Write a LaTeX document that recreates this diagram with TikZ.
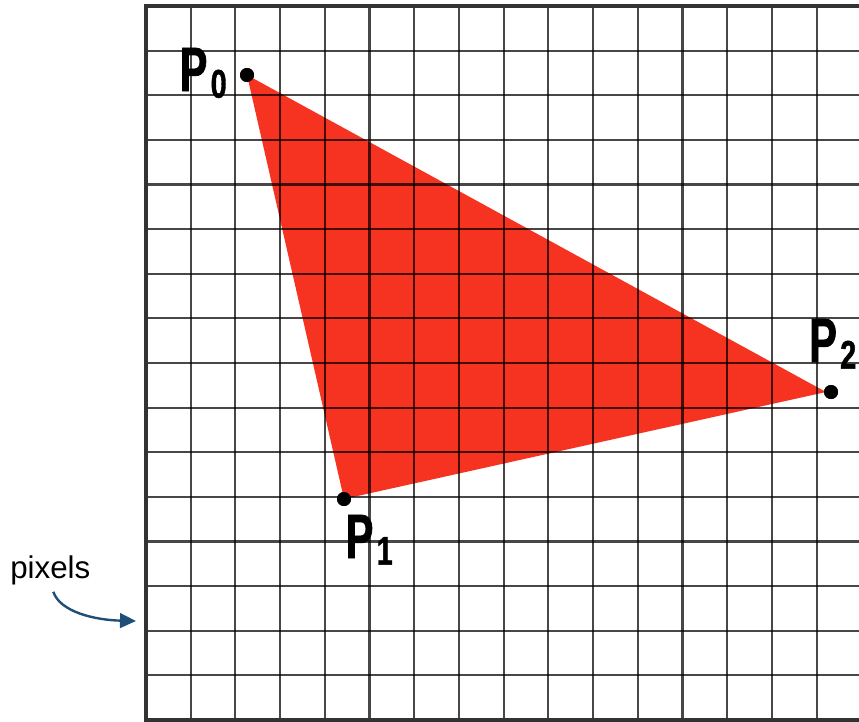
\documentclass[tikz,border=0pt]{standalone}
\usepackage{fontspec}
\setmainfont{Liberation Sans}
\newfontfamily\labfont[FakeBold=1.2,FakeStretch=0.66]{Liberation Sans Bold}
\newfontfamily\subfont[FakeBold=1.0,FakeStretch=0.72]{Liberation Sans Bold}
\usetikzlibrary{arrows.meta,calc}
\definecolor{trired}{RGB}{246,50,33}
\definecolor{arrblue}{RGB}{31,78,121}
\newcommand{\ptlabel}[1]{{\labfont\fontsize{47}{47}\selectfont P}\kern2.5pt\raisebox{-5pt}{\subfont\fontsize{30}{30}\selectfont #1}}
\begin{document}
\begin{tikzpicture}[x=0.75pt,y=-0.75pt,
  gridline/.style={black,opacity=0.72,line width=1.6pt},
  border/.style={black!80,line width=2.4pt},
  vdot/.style={circle,fill=black,inner sep=0pt,minimum size=10.5pt},
  ptlab/.style={inner sep=0pt,anchor=base west},
  pixlab/.style={inner sep=0pt,anchor=base west,font=\fontsize{23.5}{23.5}\selectfont},
  blueArrow/.style={arrblue,line width=1.8pt,-{Triangle[length=12pt,width=11pt]}}]
\useasboundingbox (0,0) rectangle (859,721);
\node[vdot] (p0) at (247,75) {};
\node[vdot] (p1) at (344,499) {};
\node[vdot] (p2) at (831,392) {};
\fill[trired] (p0.center) -- (p1.center) -- (826,392) -- cycle;
\foreach \i in {1,...,15} \draw[gridline] ({146+44.71*\i},6) -- ({146+44.71*\i},720);
\foreach \j in {1,...,15} \draw[gridline] (146,{6+44.625*\j}) -- (859,{6+44.625*\j});
\draw[border] (859,6) -- (146,6) -- (146,720) -- (859,720);
\node[vdot] at (p0) {};
\node[vdot] at (p1) {};
\node[vdot] at (p2) {};
\node[ptlab] (l0) at (179.5,91) {\ptlabel{0}};
\node[ptlab] (l1) at (345.5,558) {\ptlabel{1}};
\node[ptlab] (l2) at (809,362) {\ptlabel{2}};
\node[pixlab] (pix) at (10,578) {pixels};
\coordinate (gridpt) at (136,621);
\draw[blueArrow] ($(pix.south)+(3,7)$) .. controls (60,612) and (95,620) .. (gridpt);
\end{tikzpicture}
\end{document}
